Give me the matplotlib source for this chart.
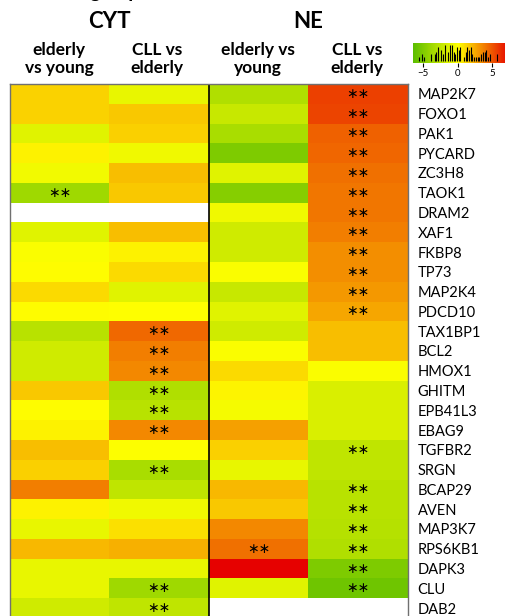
import numpy as np
import matplotlib
matplotlib.use("Agg")
import matplotlib.pyplot as plt
from matplotlib.colors import LinearSegmentedColormap, TwoSlopeNorm

plt.rcParams['font.family'] = ['Lato', 'DejaVu Sans']

genes = ["MAP2K7", "FOXO1", "PAK1", "PYCARD", "ZC3H8", "TAOK1", "DRAM2", "XAF1",
         "FKBP8", "TP73", "MAP2K4", "PDCD10", "TAX1BP1", "BCL2", "HMOX1", "GHITM",
         "EPB41L3", "EBAG9", "TGFBR2", "SRGN", "BCAP29", "AVEN", "MAP3K7", "RPS6KB1",
         "DAPK3", "CLU", "DAB2"]

nan = np.nan
# log2 fold changes
cyt_elderly_young = [1.3, 1.3, -1.2, 0.4, -0.5, -3.8, nan, -1.2, -0.2, 0.1, 1.1, 0.1, -2.8, -1.9,
                     -1.9, 1.6, 0.1, 0.4, 1.9, 1.4, 3.75, 0.4, -0.9, 2.1, -0.9, -0.9, -1.9]
cyt_cll_elderly = [-0.9, 1.6, 1.4, -0.6, 1.9, 1.6, nan, 1.9, 0.4, 1.1, -1.2, 0.0, 4.4, 3.75,
                   3.5, -3.1, -2.8, 3.5, -0.1, -3.4, -2.5, -0.6, 0.9, 2.3, -0.9, -3.8, -2.5]
ne_elderly_young = [-3.1, -2.2, -3.4, -5.1, -1.2, -4.8, -0.6, -1.9, -1.9, -0.2, -2.2, -1.2, -1.9, -0.2,
                    1.1, 0.3, -0.4, 2.8, 1.4, -0.9, 2.1, 1.6, 3.5, 4.2, 7.4, -1.2, nan]
ne_cll_elderly = [5.6, 5.5, 4.6, 4.5, 4.2, 4.0, 4.0, 3.75, 3.3, 3.3, 3.0, 2.6, 1.9, 1.9,
                  -0.2, -1.5, -1.5, -1.5, -2.5, -2.5, -2.8, -2.8, -2.9, -3.1, -5.1, -5.7, nan]

# genes with ** per column
sig_cyt_ey = ["TAOK1"]
sig_cyt_ce = ["TAX1BP1", "BCL2", "HMOX1", "GHITM", "EPB41L3", "EBAG9", "SRGN", "CLU", "DAB2"]
sig_ne_ey = ["RPS6KB1"]
sig_ne_ce = ["MAP2K7", "FOXO1", "PAK1", "PYCARD", "ZC3H8", "TAOK1", "DRAM2", "XAF1", "FKBP8",
             "TP73", "MAP2K4", "PDCD10", "TGFBR2", "BCAP29", "AVEN", "MAP3K7", "RPS6KB1",
             "DAPK3", "CLU"]

col_titles = ["elderly\nvs young", "CLL vs\nelderly", "elderly vs\nyoung", "CLL vs\nelderly"]
groups = ["CYT", "NE"]

W, H = 506, 616
vmin, vmax = -6.5, 7.5

data = np.array([cyt_elderly_young, cyt_cll_elderly, ne_elderly_young, ne_cll_elderly]).T
sigs = [sig_cyt_ey, sig_cyt_ce, sig_ne_ey, sig_ne_ce]

cmap = LinearSegmentedColormap.from_list("gyr", ["#5cbe00", "#ffff00", "#e60000"])
cmap.set_bad("white")
norm = TwoSlopeNorm(vcenter=0, vmin=vmin, vmax=vmax)

fig = plt.figure(figsize=(W / 100, H / 100), dpi=100)

ax = fig.add_axes([10 / W, -2 / H, 398 / W, 534 / H])
ax.imshow(np.ma.masked_invalid(data), cmap=cmap, norm=norm, aspect="auto", interpolation="nearest")
for j, sig in enumerate(sigs):
    for g in sig:
        i = genes.index(g)
        ax.text(j, i, "\u2217\u2217", ha="center", va="center", fontsize=10,
                family="DejaVu Sans", color="black")
ax.axvline(1.5, color="black", lw=1.2)
ax.set_xticks([])
ax.set_yticks(range(len(genes)))
ax.set_yticklabels(genes, fontsize=10.5)
ax.yaxis.tick_right()
ax.tick_params(axis="y", length=0, pad=7)
for s in ax.spines.values():
    s.set_color("#707070")
    s.set_linewidth(1.0)

# headers
for k, g in enumerate(groups):
    fig.text((109 + 199 * k) / W, 1 - 22 / H, g, ha="center", va="center",
             fontsize=16, fontweight="bold")
for x, t in zip([59, 157, 258, 357], col_titles):
    fig.text(x / W, 1 - 59 / H, t, ha="center", va="center", fontsize=12.5,
             fontweight="bold", linespacing=1.15)
# title cut off by the top edge, as in the original crop
fig.text(30 / W, 1 + 2 / H, "Ranking of proteins", ha="left", va="baseline",
         fontsize=14, fontweight="bold")

# colour key with histogram
cax = fig.add_axes([413 / W, 1 - 63 / H, 100 / W, 20 / H])
grad = np.linspace(vmin, vmax, 300).reshape(1, -1)
cax.imshow(grad, cmap=cmap, norm=norm, aspect="auto", extent=[vmin, vmax, 0, 1])
vals = data[~np.isnan(data)]
counts, edges = np.histogram(vals, bins=np.arange(vmin, vmax + 0.25, 0.25))
centers = (edges[:-1] + edges[1:]) / 2
keep = counts > 0
cax.vlines(centers[keep], 0.1, 0.2 + 0.7 * counts[keep] / counts.max(), color="black", lw=0.8)
cax.set_xlim(vmin, vmax + 0.5)
cax.set_ylim(0, 1)
cax.set_yticks([])
cax.set_xticks([-5, 0, 5])
cax.tick_params(axis="x", labelsize=7, length=3, pad=1)
for s in cax.spines.values():
    s.set_visible(False)

fig.savefig("out.png", dpi=100)
